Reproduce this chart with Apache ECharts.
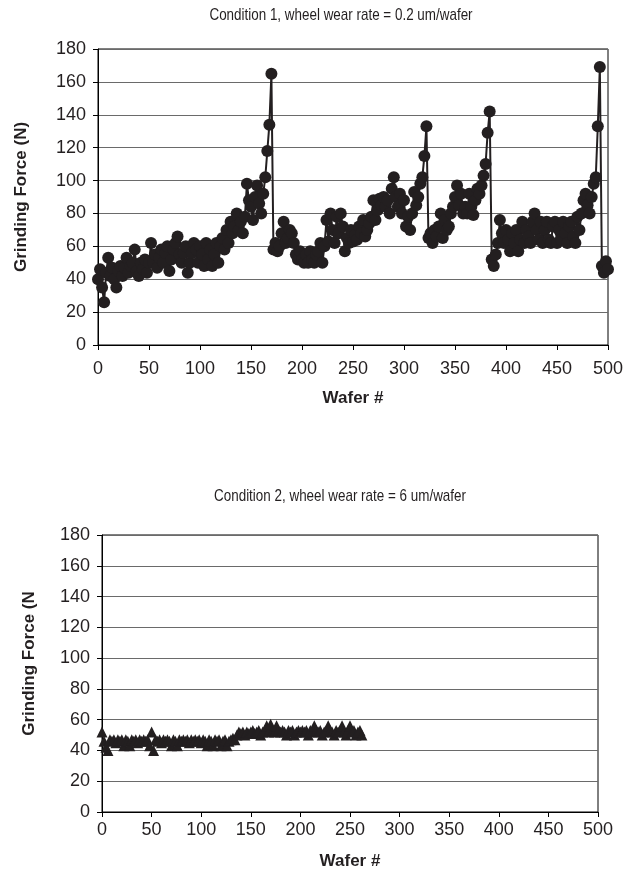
<!DOCTYPE html>
<html>
<head>
<meta charset="utf-8">
<script src="https://cdn.jsdelivr.net/npm/echarts@6/dist/echarts.min.js"></script>
<style>
html,body{margin:0;padding:0;background:#fff;}
#c{width:627px;height:879px;}
</style>
</head>
<body>
<div id="c"></div>
<script>
const title1 = "Condition 1, wheel wear rate = 0.2 um/wafer";
const title2 = "Condition 2, wheel wear rate = 6 um/wafer";
const xName = "Wafer #";
const yName1 = "Grinding Force (N)";
const yName2 = "Grinding Force (N";

const wafer1 = [0,2,4,6,8,10,12,14,16,18,20,22,24,26,28,30,32,34,36,38,40,42,44,46,48,50,
52,54,56,58,60,62,64,66,68,70,72,74,76,78,80,82,84,86,88,90,92,94,96,98,100,
102,104,106,108,110,112,114,116,118,120,122,124,126,128,130,132,134,136,138,140,142,144,146,148,150,
152,154,156,158,160,162,164,166,168,170,172,174,176,178,180,182,184,186,188,190,192,194,196,198,200,
202,204,206,208,210,212,214,216,218,220,222,224,226,228,230,232,234,236,238,240,242,244,246,248,250,
252,254,256,258,260,262,264,266,268,270,272,274,276,278,280,282,284,286,288,290,292,294,296,298,300,
302,304,306,308,310,312,314,316,318,320,322,324,326,328,330,332,334,336,338,340,342,344,346,348,350,
352,354,356,358,360,362,364,366,368,370,372,374,376,378,380,382,384,386,388,390,392,394,396,398,400,
402,404,406,408,410,412,414,416,418,420,422,424,426,428,430,432,434,436,438,440,442,444,446,448,450,
452,454,456,458,460,462,464,466,468,470,472,474,476,478,480,482,484,486,488,490,492,494,496,498,500,
502,504];
const force1 = [40,46,35,26,44,53,42,47,40,35,45,48,42,47,53,44,48,50,58,45,42,50,46,52,44,50,
62,50,55,47,53,58,50,56,60,45,52,58,62,66,55,50,56,60,44,50,56,62,58,50,60,
55,48,62,52,58,48,55,62,50,60,65,58,70,62,75,68,72,80,70,75,68,78,98,88,84,
76,90,97,86,80,92,102,118,134,165,58,62,57,60,68,75,62,65,70,68,62,55,52,57,52,
50,55,50,57,52,50,55,57,62,50,60,76,63,80,70,62,78,68,80,72,57,65,62,70,63,
67,64,72,68,76,66,70,74,78,88,76,82,89,85,90,84,88,80,95,102,90,84,92,80,88,
72,78,70,80,93,85,90,98,102,115,133,65,68,62,70,66,72,80,65,76,70,72,80,84,90,
97,85,92,80,84,80,92,84,79,88,95,92,97,103,110,129,142,52,48,55,62,76,68,62,70,
64,57,68,62,70,57,64,75,62,70,66,62,75,80,70,64,75,62,70,75,64,62,72,75,62,
70,64,75,68,62,72,75,66,62,78,70,80,88,92,85,80,90,98,102,133,169,48,44,51,46,
52,62];

const wafer2 = [0,2,4,6,8,10,12,14,16,18,20,22,24,26,28,30,32,34,36,38,40,42,44,46,48,
50,52,54,56,58,60,62,64,66,68,70,72,74,76,78,80,82,84,86,88,90,92,94,96,98,
100,102,104,106,108,110,112,114,116,118,120,122,124,126,128,130,132,134,136,138,140,142,144,146,148,
150,152,154,156,158,160,162,164,166,168,170,172,174,176,178,180,182,184,186,188,190,192,194,196,198,
200,202,204,206,208,210,212,214,216,218,220,222,224,226,228,230,232,234,236,238,240,242,244,246,248,
250,252,254,256,258,260,262];
const force2 = [52,46,42,40,47,46,47,45,47,46,47,43,47,46,43,47,46,47,45,47,46,47,46,47,43,
52,40,47,46,47,45,47,46,47,46,43,47,46,43,47,46,47,46,47,45,47,46,47,46,47,
45,47,46,43,47,46,43,47,46,47,43,46,47,43,46,47,48,47,50,52,51,52,50,52,51,
52,53,51,52,53,50,52,53,56,52,57,53,52,56,53,52,53,52,50,53,52,53,50,52,53,
52,53,52,53,50,53,52,56,53,52,53,50,52,53,56,53,52,50,53,52,53,56,52,50,53,
56,52,53,50,52,53,50];

const xTicks = {min: 0, max: 500, interval: 50};
const yTicks = {min: 0, max: 180, interval: 20};

const pairs = (xs, ys) => xs.map((x, i) => [x, ys[i]]);
const FONT = "'Liberation Sans', Arial, sans-serif";
const INK = '#231f20';

function xAxisCfg(grid, margin, gap) {
  return {
    gridIndex: grid, type: 'value', min: xTicks.min, max: xTicks.max, interval: xTicks.interval,
    splitLine: {show: false},
    axisLine: {onZero: false, lineStyle: {color: '#000', width: 1}},
    axisTick: {length: 5, lineStyle: {color: '#000'}},
    axisLabel: {fontSize: 18, color: INK, fontFamily: FONT, margin: margin},
    name: xName, nameLocation: 'middle', nameGap: gap,
    nameTextStyle: {fontSize: 17, fontWeight: 'bold', color: INK, fontFamily: FONT}
  };
}
function yAxisCfg(grid, name, gap, pad) {
  return {
    gridIndex: grid, type: 'value', min: yTicks.min, max: yTicks.max, interval: yTicks.interval,
    splitLine: {show: true, lineStyle: {color: '#6a6a6a', width: 1}},
    axisLine: {show: true, lineStyle: {color: '#000', width: 1}},
    axisTick: {show: true, length: 5, lineStyle: {color: '#000'}},
    axisLabel: {fontSize: 18, color: INK, fontFamily: FONT, margin: 12},
    name: name, nameLocation: 'middle', nameGap: gap,
    nameTextStyle: {fontSize: 17, fontWeight: 'bold', color: INK, fontFamily: FONT, padding: pad}
  };
}
function titleText(text, x, y) {
  return {
    type: 'text', x: x, y: y, scaleX: 0.79, scaleY: 1,
    style: {text: text, fontSize: 17, fontFamily: FONT, fill: INK, align: 'center', verticalAlign: 'middle'}
  };
}

const chart = echarts.init(document.getElementById('c'), null, {renderer: 'canvas'});
chart.setOption({
  animation: false,
  backgroundColor: '#fff',
  graphic: [titleText(title1, 341, 15), titleText(title2, 340, 496)],
  grid: [
    {left: 98, top: 49, width: 510, height: 296, show: true, borderColor: '#000', borderWidth: 1, backgroundColor: 'transparent'},
    {left: 102, top: 535, width: 496, height: 277, show: true, borderColor: '#000', borderWidth: 1, backgroundColor: 'transparent'}
  ],
  xAxis: [xAxisCfg(0, 15, 45), xAxisCfg(1, 9, 41)],
  yAxis: [yAxisCfg(0, yName1, 68, 0), yAxisCfg(1, yName2, 64, [0, 0, 0, 20])],
  series: [
    {type: 'line', xAxisIndex: 0, yAxisIndex: 0, data: pairs(wafer1, force1),
     symbol: 'circle', symbolSize: 12, showAllSymbol: true,
     lineStyle: {color: INK, width: 2}, itemStyle: {color: INK}},
    {type: 'scatter', xAxisIndex: 1, yAxisIndex: 1, data: pairs(wafer2, force2),
     symbol: 'triangle', symbolSize: 11, itemStyle: {color: INK, opacity: 1}}
  ]
});
</script>
</body>
</html>
